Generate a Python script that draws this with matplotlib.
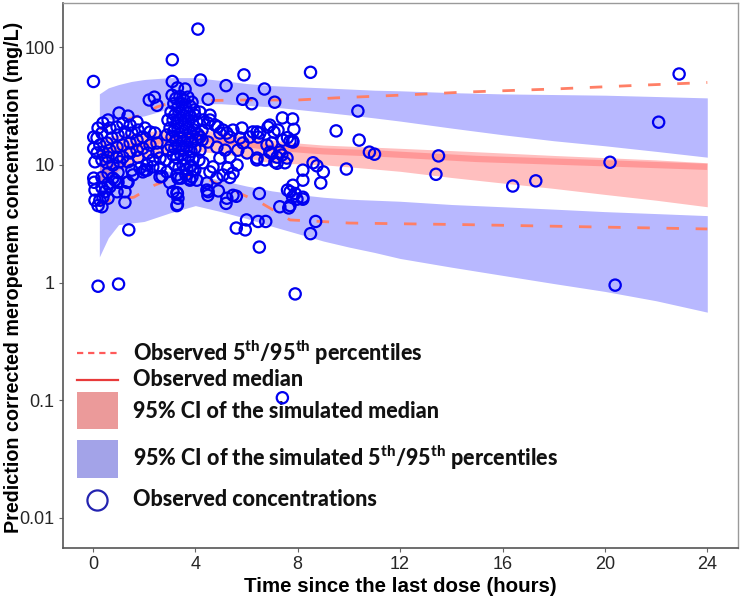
import matplotlib
matplotlib.use("Agg")
import matplotlib.pyplot as plt
from matplotlib.lines import Line2D
from matplotlib.patches import Rectangle

plt.rcParams['lines.scale_dashes'] = False
plt.rcParams['mathtext.fontset'] = 'custom'
plt.rcParams['mathtext.rm'] = 'Lato:black'
plt.rcParams['mathtext.bf'] = 'Lato:black'

# ---------------- data ----------------
# simulated CI of 95th percentile (upper blue band)
band_t = [0.25, 0.6, 1.0, 1.5, 2.0, 3.0, 4.0, 5.0, 6.0, 7.0, 8.0, 9.0, 10.0, 11.0, 12.0, 14.0, 16.0, 18.0, 20.0, 22.0, 24.0]
p95_hi = [40, 45, 48, 51, 53, 55, 55, 52, 49, 47, 46, 45, 44, 43, 42.5, 41, 40, 39.5, 39, 38, 37]
p95_lo = [25, 24.5, 24, 25, 26, 30, 33, 33, 32, 31, 29.5, 28, 26.5, 25, 23.5, 20.5, 18, 16, 14.5, 13, 11.6]
# simulated CI of median (red band)
med_hi = [17, 17.5, 18, 18.5, 19, 20, 20, 19, 17.5, 16.2, 15.3, 14.7, 14.4, 14.1, 13.8, 13.2, 12.6, 12, 11.5, 11, 10.4]
med_lo = [7, 7.5, 9, 10, 11, 12.5, 13, 12.5, 11.5, 10.3, 10.2, 10, 9.6, 9.2, 8.8, 7.8, 7.0, 6.3, 5.6, 5.0, 4.4]
# simulated CI of 5th percentile (lower blue band)
p5_hi = [11, 10.8, 10.5, 10, 9.5, 8.8, 8.2, 7.4, 6.6, 6.0, 5.6, 5.3, 5.1, 5.0, 4.9, 4.6, 4.4, 4.2, 4.0, 3.85, 3.7]
p5_lo = [1.65, 2.4, 3.1, 3.2, 3.3, 3.9, 4.5, 4.0, 3.5, 3.0, 2.6, 2.25, 2.0, 1.8, 1.6, 1.35, 1.15, 0.98, 0.84, 0.7, 0.56]

# observed median
obs_med_t = [0.25, 1.0, 2.0, 3.0, 4.0, 5.0, 6.0, 7.0, 8.0, 9.0, 11.0, 15.0, 20.0, 24.0]
obs_med = [12, 13.5, 15, 16.5, 17, 16, 15, 14, 13.5, 13, 12.5, 11.2, 10.3, 9.6]
# observed 95th / 5th percentiles
obs_p95_t = [0.25, 1.0, 2.0, 2.5, 3.0, 4.0, 6.0, 8.0, 9.5, 12.0, 14.6, 18.0, 21.0, 24.0]
obs_p95 = [20, 23, 27, 31, 33.5, 35, 35.5, 35.5, 37, 39, 41.5, 44, 47, 50]
obs_p5_t = [0.25, 0.66, 1.6, 2.4, 2.7, 3.5, 4.5, 5.6, 6.6, 7.7, 8.9, 10.0, 14.6, 24.0]
obs_p5 = [4.6, 5.0, 5.3, 6.7, 7.1, 8.2, 7.5, 5.9, 4.7, 3.4, 3.3, 3.2, 3.1, 2.85]

# observed concentrations (time since last dose, h ; concentration, mg/L)
obs_time = [
    # scattered points
    0.02, 4.1, 3.1, 3.1, 4.2, 3.3, 3.6, 2.2, 2.4, 2.5, 4.5, 5.2, 5.9, 5.85, 6.2, 6.7, 7.1, 8.5,
    10.35, 9.5, 10.4, 10.8, 11.0, 9.9, 7.4, 7.8, 7.85, 7.6, 7.8, 8.6, 8.75, 9.0, 8.9, 8.2, 8.2,
    7.6, 7.9, 7.8, 7.65, 8.2, 8.2, 8.5, 8.7, 7.3, 6.5, 6.45, 6.75, 6.5, 6.0, 5.95, 5.6, 5.6, 5.2,
    1.4, 0.2, 1.0, 7.9, 3.3, 3.3, 4.5, 4.9, 7.4,
    22.9, 22.1, 20.2, 20.4, 13.5, 13.4, 16.4, 17.3,
    # early cluster
    1.02, 1.37, 0.59, 0.39, 0.20, 0.03, 0.16, 0.35, 0.66, 0.94, 1.17, 1.45, 1.72, 1.76, 1.52, 1.25,
    0.98, 0.74, 0.55, 0.27, 0.03, 0.16, 0.39, 0.66, 0.94, 1.17, 1.45, 1.72, 1.95, 2.23, 2.03, 2.42,
    2.50, 2.23, 1.95, 1.72, 1.45, 1.17, 0.94, 0.59, 0.35, 0.08, 0.55, 0.78, 1.05, 1.37, 1.76, 2.15,
    2.50, 2.62, 2.34, 2.11, 1.84, 1.52, 0.98, 0.59, 0.35, 0.78, 2.03, 2.34, 2.62, 0.03, 0.05, 0.08,
    0.35, 0.59, 0.98, 1.37, 1.56, 1.95, 0.39, 0.08, 0.59, 0.94, 2.62, 3.0, 3.32, 3.13, 3.32, 2.89,
    0.27, 0.20, 0.35, 0.47, 0.66, 0.86, 1.25, 1.25, 1.33, 2.11, 2.7, 3.28, 3.28, 3.79, 3.9,
    # dense cluster around 3-4 h
    3.09, 3.24, 3.40, 3.55, 3.71, 3.87, 3.16, 3.32, 3.48, 3.63, 3.79, 3.95, 3.05, 3.20, 3.36, 3.52,
    3.67, 3.83, 3.98, 3.13, 3.28, 3.44, 3.59, 3.75, 3.91, 4.06, 3.01, 3.16, 3.32, 3.48, 3.63, 3.79,
    3.95, 4.10, 3.09, 3.24, 3.40, 3.55, 3.71, 3.87, 4.02, 3.05, 3.20, 3.36, 3.52, 3.67, 3.83, 3.98,
    3.13, 3.28, 3.44, 3.59, 3.75, 3.91, 3.20, 3.36, 3.52, 3.67, 3.83, 3.28, 3.44, 3.63, 3.79, 3.98,
    4.14, 4.18, 4.26, 4.30, 4.18, 2.93, 2.89, 2.93, 2.85,
    # 4-8 h cluster
    6.91, 7.23, 5.82, 6.25, 6.13, 6.52, 5.74, 5.86, 5.66, 6.02, 6.41, 6.80, 6.91, 7.19, 6.72, 5.23,
    5.35, 4.96, 4.77, 4.57, 4.26, 4.18, 4.49, 4.84, 5.16, 5.35, 4.96, 4.69, 4.30, 5.27, 5.63, 5.47,
    5.08, 4.57, 4.84, 4.45, 4.06, 3.87, 4.45, 4.49, 5.23, 5.47,
    7.07, 6.99, 7.42, 7.70, 7.81, 7.30, 7.38, 7.58, 7.11, 7.50, 7.81, 7.70, 7.97, 7.70,
    4.57, 4.49, 4.88, 5.08, 5.47, 6.84, 6.41, 6.45, 6.40, 6.99, 7.19, 5.35, 3.79,
]
obs_conc = [
    # scattered points
    51, 142, 78, 51, 52.5, 45, 44, 35.5, 37.5, 32, 36, 47, 58, 36, 33, 44, 34, 61,
    28.6, 19.4, 16.2, 12.8, 12.3, 9.2, 25, 24.5, 20, 17, 16, 10.4, 9.8, 8.7, 7.0, 9.0, 7.4,
    6.1, 5.7, 5.3, 4.3, 5.3, 5.1, 2.6, 3.3, 4.4, 5.7, 3.3, 3.3, 2.0, 3.4, 2.8, 2.9, 5.4, 4.7,
    2.8, 0.93, 0.97, 0.8, 4.6, 5.7, 5.9, 6.0, 0.105,
    59, 23, 10.5, 0.95, 11.9, 8.3, 6.6, 7.3,
    # early cluster
    27.5, 25.9, 24.0, 22.6, 20.5, 17.2, 16.9, 18.6, 20.5, 20.9, 22.6, 21.7, 23.1, 19.7, 18.6, 19.0,
    17.9, 16.9, 15.3, 14.7, 13.8, 12.6, 12.8, 13.3, 14.1, 14.7, 15.3, 16.2, 17.2, 19.0, 20.5, 18.6,
    15.3, 14.7, 13.8, 13.3, 12.6, 11.6, 11.6, 11.6, 11.0, 10.6, 10.4, 9.95, 10.6, 10.6, 11.6, 12.6,
    12.8, 11.4, 11.0, 9.95, 9.4, 9.0, 8.6, 8.5, 7.8, 7.7, 9.0, 9.6, 9.4, 7.7, 7.1, 6.1,
    6.4, 6.9, 7.1, 7.1, 8.2, 8.7, 5.3, 5.0, 5.2, 5.9, 7.9, 7.1, 7.7, 5.9, 5.2, 8.7,
    5.0, 4.5, 4.4, 5.9, 6.5, 7.4, 5.9, 4.8, 7.1, 9.0, 8.0, 5.8, 4.5, 7.6, 9.0,
    # dense cluster around 3-4 h
    39, 36.5, 38, 35.5, 37.5, 34, 33, 31, 33, 30.5, 31.5, 29.2, 28, 26.4, 28, 26,
    27.4, 25.4, 26.4, 24, 22.6, 24, 22.2, 23.5, 21.7, 23, 20.5, 19.3, 20.5, 18.9, 20.1, 18.6,
    19.7, 18.2, 17.2, 16.2, 17.2, 15.9, 16.9, 15.6, 16.5, 14.4, 13.8, 14.4, 13.3, 14.1, 13.0, 13.8,
    12.1, 11.4, 12.1, 11.2, 11.8, 11.0, 9.95, 9.4, 9.95, 9.2, 9.8, 8.2, 7.7, 8.2, 7.4, 9.0,
    11.0, 13.3, 16.2, 24, 28, 24, 17.9, 13.3, 11.0,
    # 4-8 h cluster
    21.7, 19.7, 20.5, 19.0, 17.2, 18.6, 16.9, 15.3, 13.3, 12.6, 11.4, 14.7, 12.8, 11.6, 11.0, 18.6,
    17.2, 18.6, 21.7, 24, 19.7, 17.2, 15.6, 14.1, 13.3, 11.6, 11.4, 9.6, 10.4, 9.4, 9.95, 8.5,
    8.2, 8.7, 7.7, 7.0, 7.4, 7.9, 6.1, 5.5, 5.2, 5.5,
    19.0, 15.3, 16.2, 15.9, 15.6, 12.8, 12.1, 11.4, 10.6, 10.4, 6.7, 5.9, 5.1, 4.5,
    26.4, 22.6, 21.0, 19.7, 19.7, 20.9, 19.0, 17.2, 11.0, 12.5, 10.3, 7.8, 9.6,
]

x_ticks = [0, 4, 8, 12, 16, 20, 24]
y_ticks = [0.01, 0.1, 1, 10, 100]
y_ticklabels = ["0.01", "0.1", "1", "10", "100"]

# ---------------- figure ----------------
fig = plt.figure(figsize=(7.42, 5.99), dpi=100)
ax = fig.add_axes([63 / 742, 1 - 548 / 599, 675 / 742, 545 / 599])
ax.set_yscale('log')
ax.set_xlim(-1.17, 25.2)
ax.set_ylim(0.00556, 236.6)

ax.fill_between(band_t, p95_lo, p95_hi, color='#0000ff', alpha=0.28, lw=0)
ax.fill_between(band_t, p5_lo, p5_hi, color='#0000ff', alpha=0.28, lw=0)
ax.fill_between(band_t, med_lo, med_hi, color='#ff0000', alpha=0.25, lw=0)
ax.plot(obs_med_t, obs_med, color='#ff0000', alpha=0.2, lw=4.5, solid_capstyle='butt')
ax.plot(obs_p95_t, obs_p95, color='#ff7f66', lw=2, dashes=(9, 12))
ax.plot(obs_p5_t, obs_p5, color='#ff7f66', lw=2, dashes=(9, 12))

ax.scatter(obs_time, obs_conc, s=66, facecolors='none', edgecolors='#0000f0', linewidths=1.6, zorder=5)

ax.set_xticks(x_ticks)
ax.set_xticklabels([str(v) for v in x_ticks])
ax.set_yticks(y_ticks)
ax.set_yticklabels(y_ticklabels)
ax.minorticks_off()
ax.tick_params(axis='both', length=3, width=0.8, color='#666666', labelsize=13, labelcolor='#262626', pad=3)
for lab in ax.get_xticklabels() + ax.get_yticklabels():
    lab.set_family('Liberation Sans')
for side in ['left', 'bottom']:
    ax.spines[side].set_color('#555555')
    ax.spines[side].set_linewidth(1.2)
for side in ['top', 'right']:
    ax.spines[side].set_color('#9a9a9a')
    ax.spines[side].set_linewidth(1.0)

ax.set_xlabel('Time since the last dose (hours)', fontsize=14.8, fontweight='bold',
              family='Liberation Sans', labelpad=3)
ax.set_ylabel('Prediction corrected meropenem concentration (mg/L)', fontsize=14.2,
              fontweight='bold', family='Liberation Sans')
ax.yaxis.set_label_coords((23 - 63) / 675, (548 - 277) / 545)

# ---------------- legend (drawn manually in axes coordinates) ----------------
def fx(px):
    return (px - 63) / 675

def fy(py):
    return (548 - py) / 545

tr = ax.transAxes
hx0, hx1, tx = fx(77), fx(118), fx(133)
lfont = dict(family='Lato', fontweight='black', fontsize=15.5, va='center', ha='left', transform=tr, color='#111111')

ax.add_line(Line2D([hx0, hx1], [fy(353), fy(353)], transform=tr, color='#ff5a5a', lw=1.6, dashes=(4.5, 3.5)))
ax.text(tx, fy(353), 'Observed 5$^{\\mathrm{th}}$/95$^{\\mathrm{th}}$ percentiles', **lfont)
ax.add_line(Line2D([hx0, hx1], [fy(380), fy(380)], transform=tr, color='#e83a3a', lw=1.6))
ax.text(tx, fy(380), 'Observed median', **lfont)
ax.add_patch(Rectangle((hx0, fy(429)), hx1 - hx0, fy(392) - fy(429), transform=tr,
                       facecolor='#eb9a9a', edgecolor='none'))
ax.text(tx, fy(411), '95% CI of the simulated median', **lfont)
ax.add_patch(Rectangle((hx0, fy(478)), hx1 - hx0, fy(440) - fy(478), transform=tr,
                       facecolor='#a3a3e8', edgecolor='none'))
ax.text(tx, fy(458), '95% CI of the simulated 5$^{\\mathrm{th}}$/95$^{\\mathrm{th}}$ percentiles', **lfont)
ax.add_line(Line2D([fx(97)], [fy(500)], transform=tr, marker='o', markersize=14.5,
                   markerfacecolor='none', markeredgecolor='#2323b0', markeredgewidth=1.6, lw=0))
ax.text(tx, fy(500), 'Observed concentrations', **lfont)

fig.savefig('out.png', dpi=100)
